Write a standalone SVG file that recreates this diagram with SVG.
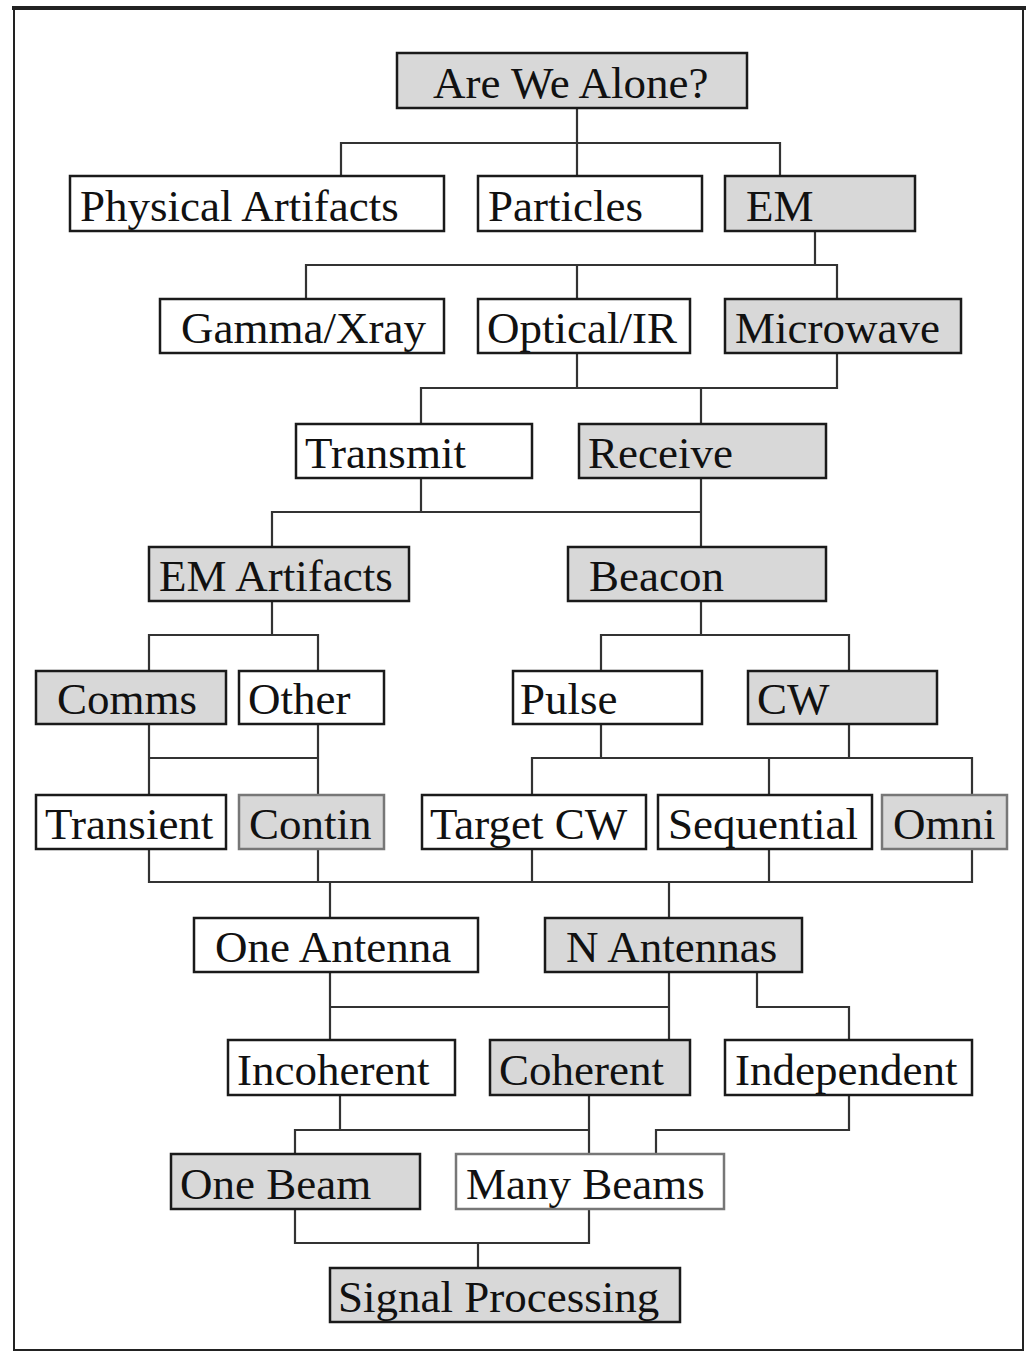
<svg xmlns="http://www.w3.org/2000/svg" width="1031" height="1351" viewBox="0 0 1031 1351">
<style>
.b{stroke:#1a1a1a;stroke-width:2.5}
.w{fill:#ffffff}
.g{fill:#d8d8d8}
.t{font-family:"Liberation Serif","Times New Roman",serif;font-size:45px;fill:#111}
.c{fill:none;stroke:#333;stroke-width:2.2}
</style>
<rect x="0" y="0" width="1031" height="1351" fill="#ffffff"/>
<rect x="14" y="9" width="1009" height="1341" fill="none" stroke="#222" stroke-width="2"/>
<line x1="12" y1="8" x2="1026" y2="8" stroke="#222" stroke-width="4"/>
<g id="connectors" class="c">
<path d="M577 108V143M341 176V143H780V176M577 143V176"/>
<path d="M815 231V265M306 299V265H837V299M577 265V299"/>
<path d="M577 353V388M837 353V388H421V424M701 388V424"/>
<path d="M421 478V512M701 478V512H272V547M701 512V547"/>
<path d="M272 601V635M149 671V635H318V671"/>
<path d="M701 601V635M601 671V635H849V671"/>
<path d="M149 724V795M318 724V795M149 758H318"/>
<path d="M601 724V758M849 724V758M532 795V758H972V795M769 758V795"/>
<path d="M149 849V882H972V849M318 849V882M532 849V882M769 849V882M330 882V918M669 882V918"/>
<path d="M330 972V1040M669 972V1040M330 1007H669"/>
<path d="M757 972V1007H849V1040"/>
<path d="M340 1095V1130M589 1095V1154M295 1154V1130H589"/>
<path d="M849 1095V1130H656V1154"/>
<path d="M295 1209V1243H589V1209M478 1243V1268"/>
</g>
<g id="n-alone"><rect class="b g" x="397" y="53" width="350" height="55"/><text class="t" x="433" y="98">Are We Alone?</text></g>
<g id="n-physical"><rect class="b w" x="70" y="176" width="374" height="55"/><text class="t" x="80" y="221">Physical Artifacts</text></g>
<g id="n-particles"><rect class="b w" x="478" y="176" width="224" height="55"/><text class="t" x="488" y="221">Particles</text></g>
<g id="n-em"><rect class="b g" x="725" y="176" width="190" height="55"/><text class="t" x="746" y="221">EM</text></g>
<g id="n-gamma"><rect class="b w" x="160" y="299" width="284" height="54"/><text class="t" x="181" y="343">Gamma/Xray</text></g>
<g id="n-optical"><rect class="b w" x="478" y="299" width="212" height="54"/><text class="t" x="487" y="343">Optical/IR</text></g>
<g id="n-microwave"><rect class="b g" x="725" y="299" width="236" height="54"/><text class="t" x="735" y="343">Microwave</text></g>
<g id="n-transmit"><rect class="b w" x="296" y="424" width="236" height="54"/><text class="t" x="305" y="468">Transmit</text></g>
<g id="n-receive"><rect class="b g" x="579" y="424" width="247" height="54"/><text class="t" x="588" y="468">Receive</text></g>
<g id="n-emartifacts"><rect class="b g" x="149" y="547" width="260" height="54"/><text class="t" x="159" y="591">EM Artifacts</text></g>
<g id="n-beacon"><rect class="b g" x="568" y="547" width="258" height="54"/><text class="t" x="589" y="591">Beacon</text></g>
<g id="n-comms"><rect class="b g" x="36" y="671" width="190" height="53"/><text class="t" x="57" y="714">Comms</text></g>
<g id="n-other"><rect class="b w" x="239" y="671" width="145" height="53"/><text class="t" x="248" y="714">Other</text></g>
<g id="n-pulse"><rect class="b w" x="513" y="671" width="189" height="53"/><text class="t" x="520" y="714">Pulse</text></g>
<g id="n-cw"><rect class="b g" x="748" y="671" width="189" height="53"/><text class="t" x="757" y="714">CW</text></g>
<g id="n-transient"><rect class="b w" x="36" y="795" width="190" height="54"/><text class="t" x="45" y="839">Transient</text></g>
<g id="n-contin"><rect class="b g" x="239" y="795" width="145" height="54" style="stroke:#777"/><text class="t" x="249" y="839">Contin</text></g>
<g id="n-targetcw"><rect class="b w" x="422" y="795" width="224" height="54"/><text class="t" x="430" y="839">Target CW</text></g>
<g id="n-sequential"><rect class="b w" x="658" y="795" width="214" height="54"/><text class="t" x="668" y="839">Sequential</text></g>
<g id="n-omni"><rect class="b g" x="882" y="795" width="125" height="54" style="stroke:#777"/><text class="t" x="893" y="839">Omni</text></g>
<g id="n-oneantenna"><rect class="b w" x="194" y="918" width="284" height="54"/><text class="t" x="215" y="962">One Antenna</text></g>
<g id="n-nantennas"><rect class="b g" x="545" y="918" width="257" height="54"/><text class="t" x="566" y="962">N Antennas</text></g>
<g id="n-incoherent"><rect class="b w" x="228" y="1040" width="227" height="55"/><text class="t" x="237" y="1085">Incoherent</text></g>
<g id="n-coherent"><rect class="b g" x="490" y="1040" width="200" height="55"/><text class="t" x="499" y="1085">Coherent</text></g>
<g id="n-independent"><rect class="b w" x="725" y="1040" width="247" height="55"/><text class="t" x="735" y="1085">Independent</text></g>
<g id="n-onebeam"><rect class="b g" x="171" y="1154" width="249" height="55"/><text class="t" x="180" y="1199">One Beam</text></g>
<g id="n-manybeams"><rect class="b w" x="456" y="1154" width="268" height="55" style="stroke:#777"/><text class="t" x="466" y="1199">Many Beams</text></g>
<g id="n-signal"><rect class="b g" x="330" y="1268" width="350" height="54"/><text class="t" x="338" y="1312">Signal Processing</text></g>
</svg>
